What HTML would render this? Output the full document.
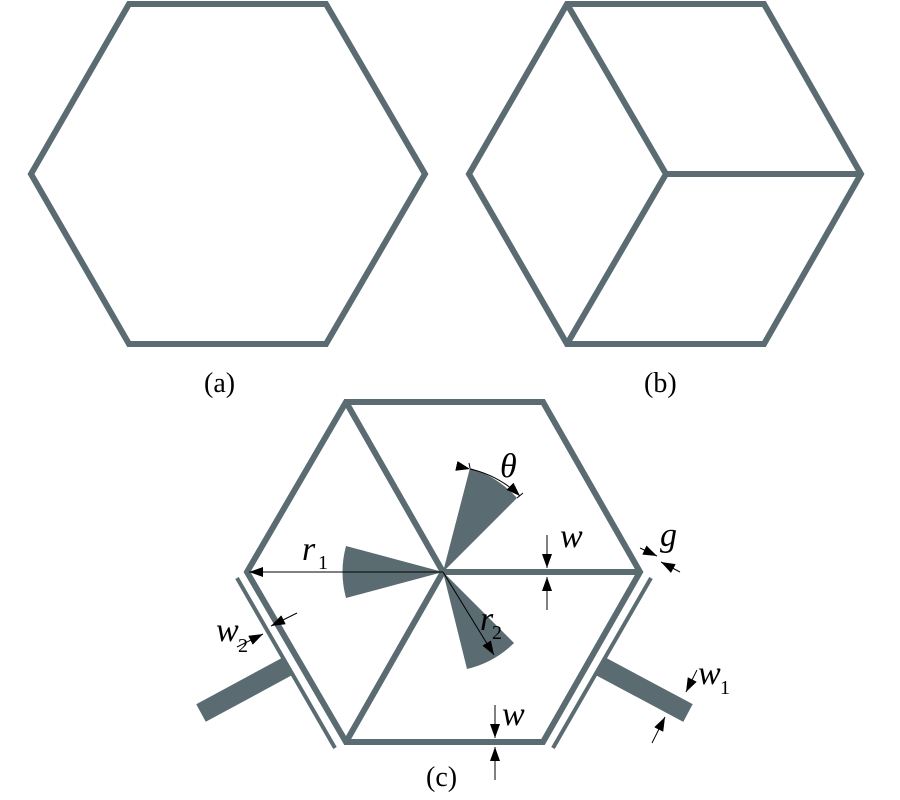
<!DOCTYPE html>
<html><head><style>html,body{margin:0;padding:0;background:#fff}svg{display:block}text{font-family:"Liberation Serif",serif;fill:#000}</style></head><body>
<svg width="900" height="800" viewBox="0 0 900 800" xmlns="http://www.w3.org/2000/svg">
<defs><marker id="ar" markerWidth="14" markerHeight="10" refX="14" refY="5" orient="auto" markerUnits="userSpaceOnUse"><path d="M0,0 L14,5 L0,10 Z" fill="#000"/></marker></defs>
<g fill="none" stroke="#5a6b72" stroke-width="6" stroke-linejoin="miter">
<polygon points="129,4 326,4 425,174 326,344 129,344 31,174"/>
<polygon points="567,4 764,4 861,174 764,344 567,344 469,174"/>
<polyline points="567,4 666,174 861,174"/><line x1="666" y1="174" x2="567" y2="344"/>
<polygon points="346,402 543,402 640,572 543,742 346,742 247,572"/>
<polyline points="346,402 443,572 640,572"/><line x1="443" y1="572" x2="346" y2="742"/>
</g>
<g stroke="#5a6b72" stroke-width="4">
<line x1="237" y1="578" x2="335" y2="748"/>
<line x1="651" y1="578" x2="553" y2="748"/>
</g>
<g stroke="#5a6b72" stroke-width="20">
<line x1="288" y1="666" x2="201" y2="713"/>
<line x1="600" y1="666" x2="688" y2="713"/>
</g>
<g fill="#5a6b72">
<path d="M443,572 L346,546 A100,100 0 0 0 346,598 Z"/>
<path d="M443,572 L470,468 A107,107 0 0 1 517,498 Z"/>
<path d="M443,572 L514,643 A100,100 0 0 1 467,669 Z"/>
</g>
<g stroke="#000" stroke-width="1" fill="none">
<line x1="443" y1="572" x2="249" y2="572" marker-end="url(#ar)"/>
<line x1="443" y1="572" x2="494" y2="655" marker-end="url(#ar)"/>
<line x1="470" y1="468" x2="469" y2="463"/><line x1="517" y1="498" x2="523" y2="493"/>
<path d="M470,469 A105,105 0 0 1 520,496" marker-start="url(#ar)" marker-end="url(#ar)"/>
<line x1="547" y1="535" x2="547" y2="568" marker-end="url(#ar)"/>
<line x1="547" y1="610" x2="547" y2="577" marker-end="url(#ar)"/>
<line x1="495" y1="705" x2="495" y2="738" marker-end="url(#ar)"/>
<line x1="495" y1="780" x2="495" y2="747" marker-end="url(#ar)"/>
<line x1="640" y1="548" x2="657" y2="556" marker-end="url(#ar)"/>
<line x1="680" y1="572" x2="661" y2="562" marker-end="url(#ar)"/>
<line x1="297" y1="613" x2="271" y2="626" marker-end="url(#ar)"/>
<line x1="237" y1="647" x2="263" y2="634" marker-end="url(#ar)"/>
<line x1="697" y1="670" x2="686" y2="692" marker-end="url(#ar)"/>
<line x1="652" y1="743" x2="665" y2="717" marker-end="url(#ar)"/>
</g>
<g font-style="italic" font-size="34">
<text x="302" y="560">r</text><text x="318" y="569" font-size="20" font-style="normal">1</text>
<text x="500" y="477">θ</text>
<text x="560" y="547">w</text>
<text x="660" y="546">g</text>
<text x="216" y="641">w</text><text x="238" y="652" font-size="20" font-style="normal">2</text>
<text x="480" y="630">r</text><text x="492" y="639" font-size="20" font-style="normal">2</text>
<text x="698" y="684">w</text><text x="720" y="694" font-size="20" font-style="normal">1</text>
<text x="502" y="725">w</text>
</g>
<g font-size="28">
<text x="204" y="392">(a)</text><text x="644" y="392">(b)</text><text x="426" y="786">(c)</text>
</g>
</svg>
</body></html>
